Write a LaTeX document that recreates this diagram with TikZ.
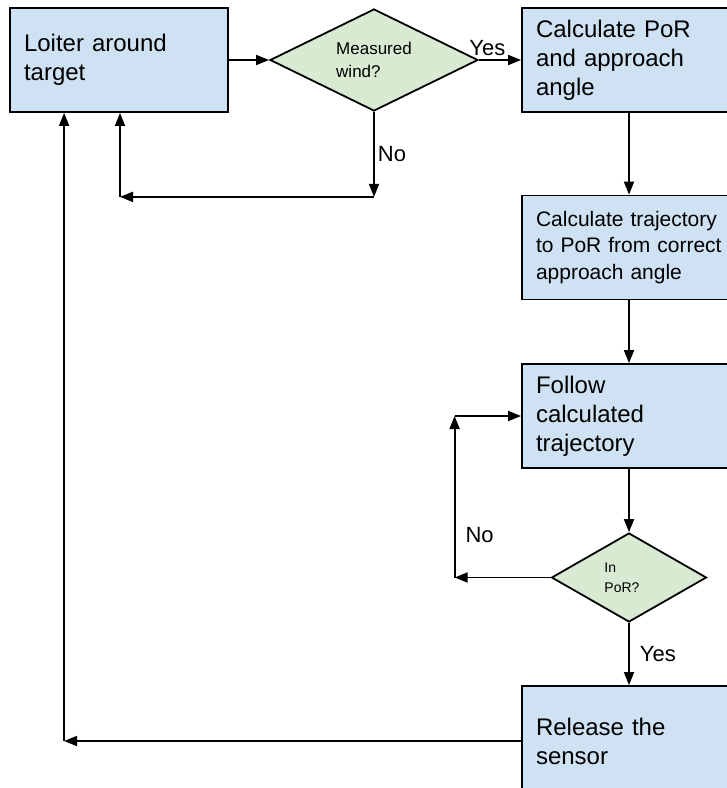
\documentclass[tikz,border=0pt]{standalone}
\usepackage{fontspec}
\setmainfont{Liberation Sans}
\usepackage{tikz}
\usetikzlibrary{positioning,arrows.meta,shapes.geometric}
\definecolor{boxblue}{HTML}{CFE2F3}
\definecolor{decgreen}{HTML}{D9EAD3}

\begin{document}
\begin{tikzpicture}[x=1pt,y=1pt,>={Triangle[length=13pt,width=10pt]},line width=1.8pt,on grid,
  blk/.style={rectangle,draw,fill=boxblue,text width=186pt,inner xsep=14pt,inner ysep=3pt,
    minimum height=104pt,align=left,font=\fontsize{24}{29}\selectfont},
  dec/.style={diamond,draw,fill=decgreen,inner sep=0pt,align=left},
  lbl/.style={font=\fontsize{22}{26}\selectfont,inner sep=2pt}]
\path[use as bounding box,fill=white] (0,0) rectangle (727,-788);
% top row
\node[blk,text width=190pt] (loiter) at (119,-60) {Loiter around\\target};
\node[dec,right=255pt of loiter,minimum width=208pt,minimum height=102pt,shape aspect=2,
  font=\fontsize{17}{23}\selectfont] (wind) {Measured\\wind?};
\node[blk,right=255pt of wind] (por) {Calculate PoR\\and approach\\angle};
% right column
\node[blk,below=187.5pt of por,font=\fontsize{21}{26.5}\selectfont] (traj)
  {Calculate trajectory\\to PoR from correct\\approach angle};
\node[blk,below=168.5pt of traj] (follow) {Follow\\calculated\\trajectory};
\node[dec,below=161.5pt of follow,minimum width=155pt,minimum height=89pt,shape aspect=1.74,
  font=\fontsize{14}{20}\selectfont] (inpor) {In\\PoR?\hspace*{14pt}};
\node[blk,below=163.5pt of inpor,minimum height=110pt] (release) {Release the\\sensor};
% bends
\coordinate[below=85pt of wind.south] (windturn);
\coordinate[left=254pt of windturn] (loiterback);
\coordinate[left=96pt of inpor.west] (porturn);
\coordinate[left=457pt of release.west] (relturn);
% flow
\draw[->] (loiter) -- (wind);
\draw[->] (wind) -- node[lbl,pos=0.2,above=1pt]{Yes} (por);
\draw[->] (wind.south) -- node[lbl,midway,right=1pt]{No} (windturn);
\draw[->] (windturn) -- (loiterback);
\draw[->] (loiterback) -- (loiterback |- loiter.south);
\draw[->] (por) -- (traj);
\draw[->] (traj) -- (follow);
\draw[->] (follow) -- (inpor);
\draw[->] (inpor) -- node[lbl,midway,right=8pt]{Yes} (release);
\draw[->] (inpor.west) -- (porturn);
\draw[->] (porturn) -- node[lbl,pos=0.26,right=8pt]{No} (porturn |- follow.west);
\draw[->] (porturn |- follow.west) -- (follow.west);
\draw[->] (release.west) -- (relturn);
\draw[->] (relturn) -- (relturn |- loiter.south);
\end{tikzpicture}
\end{document}
